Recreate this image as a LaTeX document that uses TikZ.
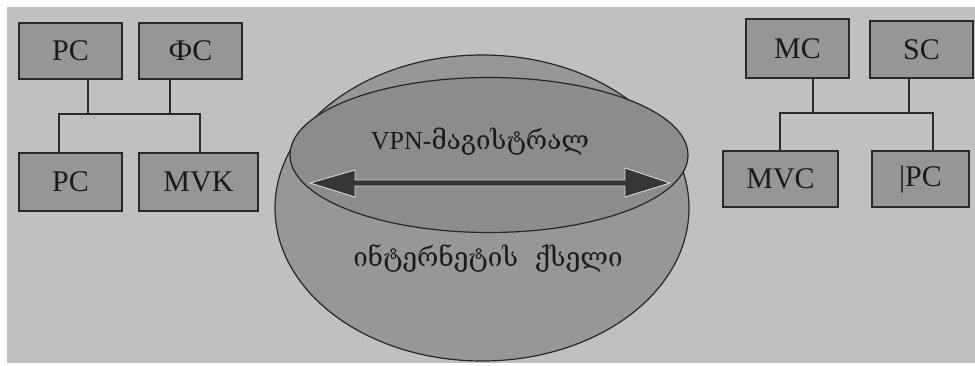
\documentclass[tikz,border=0pt]{standalone}
\usepackage{fontspec}
\setmainfont{Liberation Serif}
\newfontfamily\geo{DejaVu Serif}
\usetikzlibrary{shapes.geometric,calc}
\definecolor{bg}{HTML}{C0C0C0}
\definecolor{boxfill}{HTML}{969696}
\definecolor{outerfill}{HTML}{979797}
\definecolor{innerfill}{HTML}{8C8C8C}
\definecolor{edge}{HTML}{2A2A2A}
\definecolor{arrowfill}{HTML}{353535}
\definecolor{txt}{HTML}{1A1A1A}
\begin{document}
\begin{tikzpicture}[x=1pt,y=-1pt,
  unit/.style={draw=edge,line width=2.4pt,fill=boxfill,rectangle,inner sep=0pt,
    text=txt,font=\fontsize{30}{36}\selectfont},
  wire/.style={draw=edge,line width=1.8pt},
  region/.style={ellipse,draw=black!85,line width=1.2pt,inner sep=0pt},
  lab/.style={text=txt,font=\fontsize{26}{30}\selectfont}]
\useasboundingbox (0,0) rectangle (975,365);
\fill[white] (0,0) rectangle (975,365);
\fill[bg] (7,7) rectangle (975,363);
% left group
\node[unit,minimum width=103pt,minimum height=56pt] (pc1) at (70.5,51) {PC};
\node[unit,minimum width=103pt,minimum height=56pt] (fc) at (190.5,51) {ФС};
\node[unit,minimum width=103pt,minimum height=58pt] (pc2) at (70.5,182) {PC};
\node[unit,minimum width=119pt,minimum height=58pt] (mvk) at (198.5,182) {MVK};
\coordinate (lbl) at (59,114);
\coordinate (lbr) at (200,114);
\coordinate (lc1) at (88,114);
\coordinate (lc2) at (170,114);
\draw[wire] (pc1.south -| lc1) -- (lc1);
\draw[wire] (fc.south -| lc2) -- (lc2);
\draw[wire] (pc2.north -| lbl) -- (lbl) -- (lbr) -- (mvk.north -| lbr);
% right group
\node[unit,minimum width=103pt,minimum height=59pt] (mc) at (797.5,48.5) {MC};
\node[unit,minimum width=103pt,minimum height=57pt] (sc) at (921.5,49.5) {SC};
\node[unit,minimum width=115pt,minimum height=56pt] (mvc) at (780.5,179) {MVC};
\node[unit,minimum width=97pt,minimum height=56pt] (pcr) at (920.5,179) {|PC};
\coordinate (rbl) at (780,113);
\coordinate (rbr) at (933,113);
\coordinate (rc1) at (813,113);
\coordinate (rc2) at (909,113);
\draw[wire] (mc.south -| rc1) -- (rc1);
\draw[wire] (sc.south -| rc2) -- (rc2);
\draw[wire] (mvc.north -| rbl) -- (rbl) -- (rbr) -- (pcr.north -| rbr);
% network
\node[region,fill=outerfill,minimum width=414pt,minimum height=306pt] (net) at (482,208) {};
\node[region,fill=innerfill,minimum width=398pt,minimum height=155pt] (vpn) at (489,155) {};
% double arrow
\coordinate (al) at (310,183);
\coordinate (ar) at (670,183);
\draw[fill=arrowfill,draw=white!85!black,line width=0.9pt]
  (al) -- ($(al)+(45,-13)$) -- ($(al)+(45,-3)$) -- ($(ar)+(-45,-3)$) -- ($(ar)+(-45,-15)$)
  -- (ar) -- ($(ar)+(-45,14)$) -- ($(ar)+(-45,3)$) -- ($(al)+(45,3)$) -- ($(al)+(45,14)$) -- cycle;
\node[lab] (t1) at (480,142) {VPN-{\geo მაგისტრალ}};
\node[lab] (t2) at (488,258) {\geo ინტერნეტის\ \ ქსელი};
\end{tikzpicture}
\end{document}
